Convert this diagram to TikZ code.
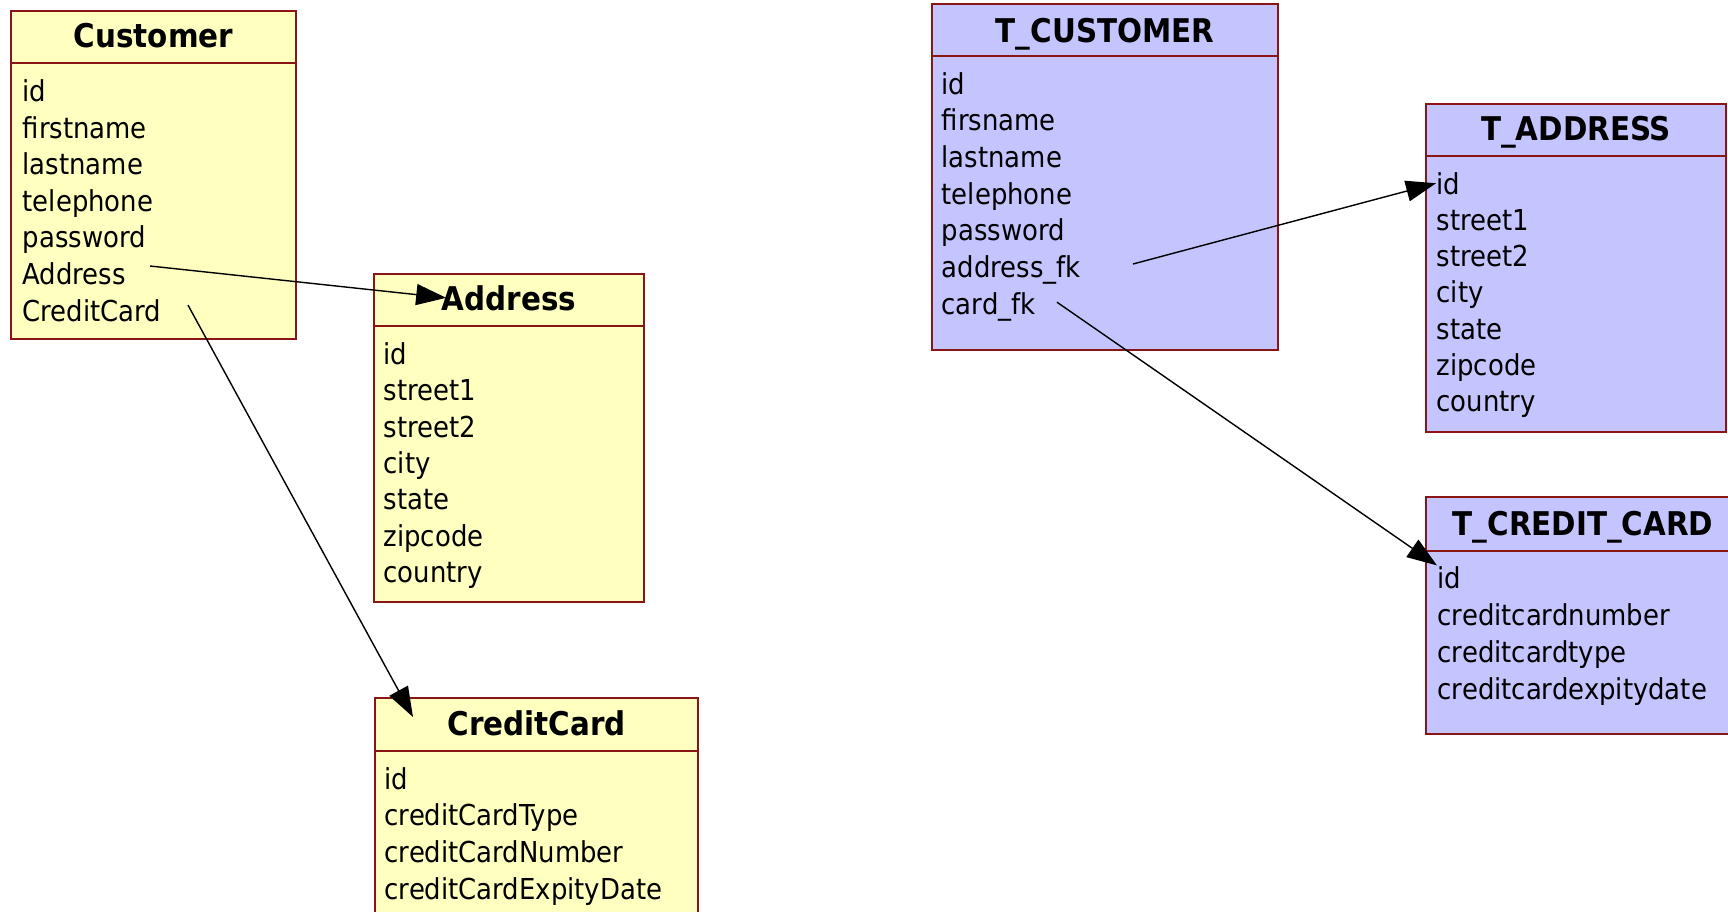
\documentclass[tikz,border=0pt]{standalone}
\usepackage{fontspec}
\setmainfont{DejaVu Sans Condensed}[BoldFont={DejaVu Sans Condensed Bold}]
\usepackage{xcolor}
\usepackage{tikz}
\usetikzlibrary{arrows.meta}

\definecolor{frame}{RGB}{139,20,20}
\definecolor{classfill}{RGB}{255,255,192}
\definecolor{tablefill}{RGB}{196,196,255}

\begin{document}
\begin{tikzpicture}[
  tbl/.style={draw=frame, line width=0.6pt, anchor=north west, inner sep=0pt},
  head/.style={anchor=base, inner sep=0pt, font=\fontsize{9.3}{11}\selectfont\bfseries},
  field/.style={anchor=base west, inner sep=0pt, font=\fontsize{8.2}{10}\selectfont},
  rule/.style={draw=frame, line width=0.6pt},
  fk/.style={-{Triangle[length=3mm, width=2.1mm]}, line width=0.4pt}
]
  \path[use as bounding box, clip] (0,0) rectangle (17.28,-9.12);

  % Classes
  \node[tbl, fill=classfill, minimum width=2.85cm, minimum height=3.28cm] (cust) at (0.10,-0.10) {};
  \node[head] (cust-head) at ([yshift=-0.37cm]cust.north) {Customer};
  \draw[rule] ([yshift=-0.53cm]cust.north west) -- ([yshift=-0.53cm]cust.north east);
  \foreach \f [count=\i] in {id,firstname,lastname,telephone,password,Address,CreditCard}
    \node[field] (cust-\i) at ([shift={(0.12,{-0.915-0.366*(\i-1)})}]cust.north west) {\f};

  \node[tbl, fill=classfill, minimum width=2.70cm, minimum height=3.28cm] (addr) at (3.73,-2.73) {};
  \node[head] (addr-head) at ([yshift=-0.37cm]addr.north) {Address};
  \draw[rule] ([yshift=-0.53cm]addr.north west) -- ([yshift=-0.53cm]addr.north east);
  \foreach \f [count=\i] in {id,street1,street2,city,state,zipcode,country}
    \node[field] (addr-\i) at ([shift={(0.10,{-0.915-0.363*(\i-1)})}]addr.north west) {\f};

  \node[tbl, fill=classfill, minimum width=3.23cm, minimum height=2.60cm] (card) at (3.74,-6.97) {};
  \node[head] (card-head) at ([yshift=-0.38cm]card.north) {CreditCard};
  \draw[rule] ([yshift=-0.54cm]card.north west) -- ([yshift=-0.54cm]card.north east);
  \foreach \f [count=\i] in {id,creditCardType,creditCardNumber,creditCardExpityDate}
    \node[field] (card-\i) at ([shift={(0.10,{-0.92-0.367*(\i-1)})}]card.north west) {\f};

  % Tables
  \node[tbl, fill=tablefill, minimum width=3.46cm, minimum height=3.46cm] (tcust) at (9.31,-0.03) {};
  \node[head] (tcust-head) at ([yshift=-0.39cm]tcust.north) {T\_CUSTOMER};
  \draw[rule] ([yshift=-0.53cm]tcust.north west) -- ([yshift=-0.53cm]tcust.north east);
  \foreach \f [count=\i] in {id,firsname,lastname,telephone,password,address\_fk,card\_fk}
    \node[field] (tcust-\i) at ([shift={(0.10,{-0.91-0.367*(\i-1)})}]tcust.north west) {\f};

  \node[tbl, fill=tablefill, minimum width=3.00cm, minimum height=3.28cm] (taddr) at (14.25,-1.03) {};
  \node[head] (taddr-head) at ([yshift=-0.37cm]taddr.north) {T\_ADDRESS};
  \draw[rule] ([yshift=-0.53cm]taddr.north west) -- ([yshift=-0.53cm]taddr.north east);
  \foreach \f [count=\i] in {id,street1,street2,city,state,zipcode,country}
    \node[field] (taddr-\i) at ([shift={(0.11,{-0.91-0.363*(\i-1)})}]taddr.north west) {\f};

  \node[tbl, fill=tablefill, minimum width=3.14cm, minimum height=2.37cm] (tcc) at (14.25,-4.96) {};
  \node[head] (tcc-head) at ([yshift=-0.39cm]tcc.north) {T\_CREDIT\_CARD};
  \draw[rule] ([yshift=-0.55cm]tcc.north west) -- ([yshift=-0.55cm]tcc.north east);
  \foreach \f [count=\i] in {id,creditcardnumber,creditcardtype,creditcardexpitydate}
    \node[field] (tcc-\i) at ([shift={(0.12,{-0.92-0.37*(\i-1)})}]tcc.north west) {\f};

  % References
  \draw[fk] ([shift={(1.28,0.185)}]cust-6.base west) -- ([xshift=0.05cm]addr-head.west);
  \draw[fk] ([shift={(1.66,0.16)}]cust-7.base west) -- ([shift={(0.39,-0.20)}]card.north west);
  \draw[fk] ([shift={(1.92,0.135)}]tcust-6.base west) -- (taddr-1.west);
  \draw[fk] ([shift={(1.16,0.12)}]tcust-7.base west) -- (tcc-1.north west);
\end{tikzpicture}
\end{document}
